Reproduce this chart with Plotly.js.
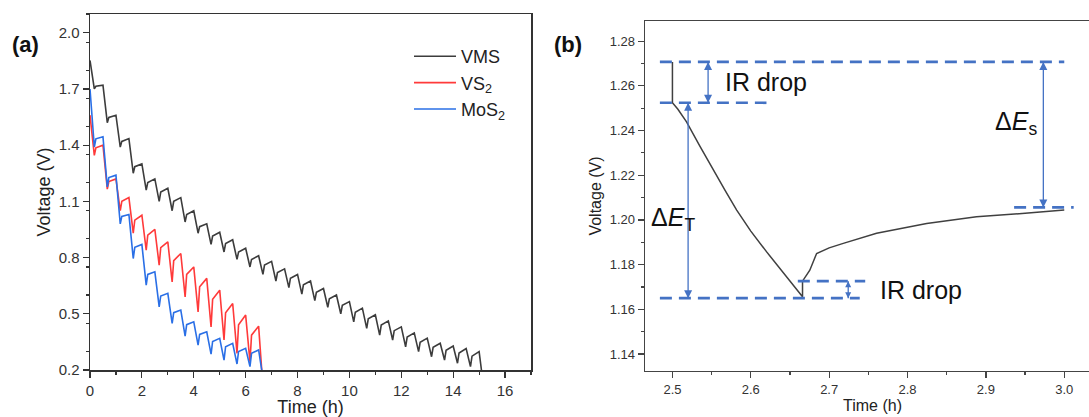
<!DOCTYPE html>
<html><head><meta charset="utf-8">
<script src="https://cdn.plot.ly/plotly-3.0.1.min.js"></script>
<style>html,body{margin:0;padding:0;overflow:hidden;background:#fff}</style>
</head><body><div id="chart" style="width:1100px;height:417px"></div>
<script>
// ---------- Panel (a): GITT discharge curves (per-cycle voltages) ----------
const seriesNames = ['VMS', 'VS<sub>2</sub>', 'MoS<sub>2</sub>'];
const pulsePeriod = 0.5;      // h, one pulse + rest
const pulseLength = 1 / 6;    // h, current pulse
const kneeDelay = 0.06;       // h after pulse end where the quick relaxation ends

// VMS
const vmsPeak   = [1.852,1.72,1.56,1.435,1.30,1.22,1.17,1.12,1.05,0.98,0.935,0.895,0.85,0.81,0.78,0.74,0.71,0.675,0.635,0.60,0.565,0.53,0.495,0.462,0.43,0.398,0.37,0.343,0.328,0.315,0.298];
const vmsTrough = [1.70,1.52,1.39,1.25,1.16,1.10,1.05,0.99,0.93,0.87,0.83,0.79,0.75,0.71,0.675,0.64,0.605,0.57,0.535,0.50,0.457,0.422,0.386,0.36,0.324,0.298,0.271,0.253,0.236,0.218];
const vmsKnee   = [1.714,1.548,1.42,1.285,1.20,1.15,1.10,1.03,0.965,0.915,0.875,0.83,0.79,0.76,0.72,0.69,0.655,0.615,0.58,0.545,0.508,0.473,0.44,0.41,0.376,0.348,0.321,0.305,0.291,0.274];
const vmsEnd    = [15.09, 0.2];

// VS2
const vs2Peak   = [1.56,1.40,1.22,1.12,1.026,0.95,0.884,0.822,0.75,0.689,0.626,0.555,0.493,0.434];
const vs2Trough = [1.345,1.165,1.05,0.93,0.84,0.76,0.67,0.59,0.51,0.43,0.36,0.289,0.244];
const vs2Knee   = [1.386,1.206,1.10,1.0,0.92,0.853,0.784,0.71,0.644,0.577,0.506,0.442,0.386];
const vs2End    = [6.62, 0.2];

// MoS2
const mosPeak   = [1.70,1.445,1.24,1.03,0.87,0.724,0.609,0.52,0.457,0.404,0.369,0.342,0.316,0.307];
const mosTrough = [1.39,1.177,0.98,0.795,0.653,0.537,0.449,0.381,0.333,0.285,0.253,0.232,0.218];
const mosKnee   = [1.434,1.227,1.02,0.855,0.71,0.595,0.506,0.442,0.39,0.352,0.324,0.299,0.289];
const mosEnd    = [6.62, 0.2];

const seriesColors = ['#3c3c3c', '#ff3a3a', '#2a6fe6'];

// ---------- Panel (b): single GITT step ----------
const tStep = [2.5,2.5,2.507,2.518,2.535,2.552,2.567,2.582,2.6,2.62,2.64,2.666,2.666,2.6753,2.684,2.7,2.718,2.7605,2.8244,2.888,2.95,3.0];
const vStep = [1.2707,1.2524,1.2495,1.2439,1.233,1.2223,1.2133,1.2044,1.195,1.1858,1.1768,1.1656,1.1726,1.1775,1.185,1.1875,1.1895,1.194,1.1984,1.2014,1.203,1.2044];

// guide levels (V) and their time spans (h)
const guideLevels = [1.2707, 1.2524, 1.165, 1.1726, 1.2056];
const guideStart  = [2.484, 2.484, 2.484, 2.66, 2.936];
const guideEnd    = [3.0, 2.62, 2.739, 2.746, 3.012];
// double arrows: time, upper level, lower level
const arrowTime  = [2.5455, 2.52, 2.7243, 2.9733];
const arrowUpper = [1.2707, 1.2524, 1.1726, 1.2707];
const arrowLower = [1.2524, 1.165, 1.165, 1.2056];
// labels
const labelText = ['IR drop', 'IR drop', 'Δ<i>E</i><sub>T</sub>', 'Δ<i>E</i><sub>s</sub>'];
const labelTime = [2.564, 2.762, 2.470, 2.909];
const labelVolt = [1.2618, 1.1686, 1.2005, 1.2435];

function gittPoints(peak, trough, knee, end) {
  const x = [], y = [];
  for (let i = 0; i < trough.length; i++) {
    const t0 = i * pulsePeriod;
    x.push(t0); y.push(peak[i]);
    x.push(t0 + pulseLength); y.push(trough[i]);
    x.push(t0 + pulseLength + kneeDelay); y.push(knee[i]);
  }
  if (peak.length > trough.length) { x.push(trough.length * pulsePeriod); y.push(peak[trough.length]); }
  x.push(end[0]); y.push(end[1]);
  return {x, y};
}

const FONT = '"Liberation Sans", Arial, Helvetica, sans-serif';
const sets = [
  gittPoints(vmsPeak, vmsTrough, vmsKnee, vmsEnd),
  gittPoints(vs2Peak, vs2Trough, vs2Knee, vs2End),
  gittPoints(mosPeak, mosTrough, mosKnee, mosEnd)
];
const traces = sets.map((s, i) => ({
  x: s.x, y: s.y, type: 'scatter', mode: 'lines', name: seriesNames[i],
  line: {color: seriesColors[i], width: 1.6}, xaxis: 'x', yaxis: 'y'
}));
traces.push({x: tStep, y: vStep, type: 'scatter', mode: 'lines', showlegend: false,
  line: {color: '#404040', width: 1.5}, xaxis: 'x2', yaxis: 'y2'});

const guideColor = '#4472c4';
// double-headed arrows as line+marker traces (arrow tips sit on the data points)
arrowTime.forEach((t, i) => traces.push({
  x: [t, t], y: [arrowUpper[i], arrowLower[i]], type: 'scatter', mode: 'lines+markers',
  showlegend: false, xaxis: 'x2', yaxis: 'y2', cliponaxis: false,
  line: {color: guideColor, width: 1.3},
  marker: {symbol: ['arrow-up', 'arrow-down'], size: i === 2 ? 6 : 8, color: guideColor, line: {width: 0}}
}));

const shapes = guideLevels.map((v, i) => ({
  type: 'line', xref: 'x2', yref: 'y2', x0: guideStart[i], x1: guideEnd[i], y0: v, y1: v,
  line: {color: guideColor, width: 2.6, dash: '12px,7px'}
}));

const annotations = [];
labelText.forEach((s, i) => annotations.push({
  xref: 'x2', yref: 'y2', x: labelTime[i], y: labelVolt[i], text: s, showarrow: false,
  xanchor: 'left', yanchor: 'middle', font: {family: FONT, size: 25, color: '#111'}
}));
annotations.push({xref: 'paper', yref: 'paper', x: 10/1100, y: 1 - 44/417, text: '<b>(a)</b>',
  showarrow: false, xanchor: 'left', yanchor: 'middle', font: {family: FONT, size: 22, color: '#111'}});
annotations.push({xref: 'paper', yref: 'paper', x: 552/1100, y: 1 - 44/417, text: '<b>(b)</b>',
  showarrow: false, xanchor: 'left', yanchor: 'middle', font: {family: FONT, size: 22, color: '#111'}});

function axisBase(color, lw, fs) {
  return {showgrid: false, zeroline: false, showline: true, mirror: true, linecolor: color, linewidth: lw,
    ticks: 'outside', ticklen: 6, tickwidth: 1.2, tickcolor: color,
    tickfont: {family: FONT, size: fs, color: '#333'}};
}

const layout = {
  width: 1100, height: 417, margin: {l: 0, r: 0, t: 0, b: 0},
  paper_bgcolor: '#fff', plot_bgcolor: '#fff', font: {family: FONT, color: '#222'},
  showlegend: true,
  legend: {x: 409/1100, y: 1 - 38/417, xanchor: 'left', yanchor: 'top', bgcolor: 'rgba(0,0,0,0)',
    itemwidth: 42, font: {family: FONT, size: 18, color: '#222'}, tracegroupgap: 0},
  xaxis: Object.assign(axisBase('#333', 1.5, 15), {domain: [90/1100, 531/1100], anchor: 'y',
    range: [0, 17], tick0: 0, dtick: 2,
    minor: {dtick: 1, ticks: 'outside', ticklen: 3, tickcolor: '#333', tickwidth: 1.2},
    title: {text: 'Time (h)', font: {family: FONT, size: 18, color: '#222'}, standoff: 5}}),
  yaxis: Object.assign(axisBase('#333', 1.5, 15), {domain: [47/417, 403/417], anchor: 'x',
    range: [0.2, 2.1], tick0: 0.2, dtick: 0.3, tickformat: '.1f',
    minor: {dtick: 0.15, ticks: 'outside', ticklen: 3, tickcolor: '#333', tickwidth: 1.2},
    title: {text: 'Voltage (V)', font: {family: FONT, size: 18, color: '#222'}, standoff: 3}}),
  xaxis2: Object.assign(axisBase('#444', 1.3, 13), {domain: [645/1100, 1], anchor: 'y2',
    range: [2.465, 3.0456], tick0: 2.5, dtick: 0.1, tickformat: '.1f',
    minor: {dtick: 0.05, ticks: 'outside', ticklen: 3, tickcolor: '#444', tickwidth: 1.2},
    title: {text: 'Time (h)', font: {family: FONT, size: 16, color: '#222'}, standoff: 4}}),
  yaxis2: Object.assign(axisBase('#444', 1.3, 13), {domain: [46/417, 396/417], anchor: 'x2',
    range: [1.1324, 1.289], tick0: 1.14, dtick: 0.02, tickformat: '.2f',
    minor: {dtick: 0.01, ticks: 'outside', ticklen: 3, tickcolor: '#444', tickwidth: 1.2},
    title: {text: 'Voltage (V)', font: {family: FONT, size: 16, color: '#222'}, standoff: 4}}),
  shapes: shapes, annotations: annotations
};

Plotly.newPlot('chart', traces, layout, {displayModeBar: false, staticPlot: true});
</script></body></html>
